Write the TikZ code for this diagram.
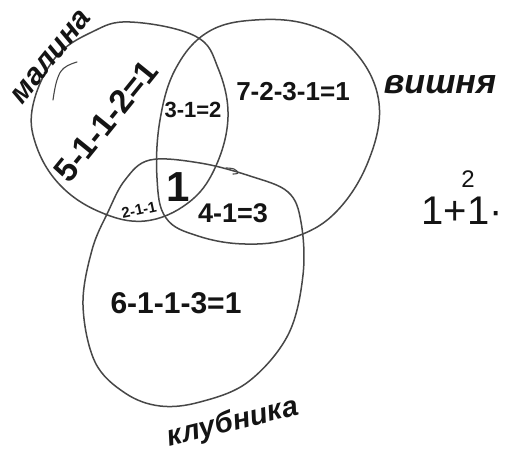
\documentclass[tikz,border=0pt]{standalone}
\usepackage{fontspec}
\setmainfont{Liberation Sans}
\begin{document}
\begin{tikzpicture}[x=1pt,y=-1pt,
  setline/.style={draw=black!72, line width=1.5pt, line join=round, line cap=round},
  lbl/.style={text=black!92, inner sep=0pt, outer sep=0pt},
  word/.style={lbl, font=\fontsize{34}{34}\selectfont\itshape\bfseries}]
\fill[white] (0,0) rectangle (507,452);
\useasboundingbox (0,0) rectangle (507,452);

% малина
\draw[setline] plot[smooth cycle, tension=0.65] coordinates {
  (130,22) (195,36) (218,68) (228,117) (215,168) (188,203) (145,221)
  (100,212) (60,185) (36,145) (33,105) (55,58) (92,32)};
% stray tick on малина
\draw[setline, line width=1.1pt] plot[smooth, tension=0.7] coordinates {(53,100) (57,80) (64,68) (77,62)};

% вишня
\draw[setline] plot[smooth cycle, tension=0.65] coordinates {
  (157,178) (160,120) (176,68) (208,32) (255,20) (310,25) (355,52)
  (379,103) (368,162) (335,213) (292,238) (245,244) (198,236) (166,218)};

% клубника
\draw[setline] plot[smooth cycle, tension=0.6] coordinates {
  (150,160) (200,163) (250,176) (288,192) (301,222) (303,275) (288,335)
  (248,382) (200,402) (160,406) (125,393) (95,362) (83,305) (92,250)
  (108,212) (125,180)};
\draw[setline, line width=1.1pt] plot[smooth, tension=0.7] coordinates {(226,168) (234,169) (238,173) (233,174)};

% region labels
\node[lbl, rotate=51, font=\fontsize{33}{33}\selectfont\bfseries] (m) at (106,121) {5-1-1-2=1};
\node[lbl, font=\fontsize{22}{22}\selectfont\bfseries] (mv) at (193,110) {3-1=2};
\node[lbl, font=\fontsize{26}{26}\selectfont\bfseries] (v) at (293,92) {7-2-3-1=1};
\node[lbl, font=\fontsize{42}{42}\selectfont\bfseries] (mvk) at (178,187) {1};
\node[lbl, rotate=12, font=\fontsize{15}{15}\selectfont\bfseries] (mk) at (139,210) {2-1-1};
\node[lbl, font=\fontsize{27}{27}\selectfont\bfseries] (vk) at (233,213) {4-1=3};
\node[lbl, font=\fontsize{30}{30}\selectfont\bfseries] (k) at (176,303) {6-1-1-3=1};

% set names
\node[word, rotate=51, font=\fontsize{30}{30}\selectfont\itshape\bfseries] (nm) at (51,57) {малина};
\node[word] (nv) at (440,85) {вишня};
\node[word, rotate=14, font=\fontsize{29}{29}\selectfont\itshape\bfseries] (nk) at (233,423) {клубника};

% side note
\node[lbl, font=\fontsize{40}{40}\selectfont] (sum) at (462,211) {1+1·};
\node[lbl, font=\fontsize{24}{24}\selectfont] (two) at (468,179) {2};
\end{tikzpicture}
\end{document}
